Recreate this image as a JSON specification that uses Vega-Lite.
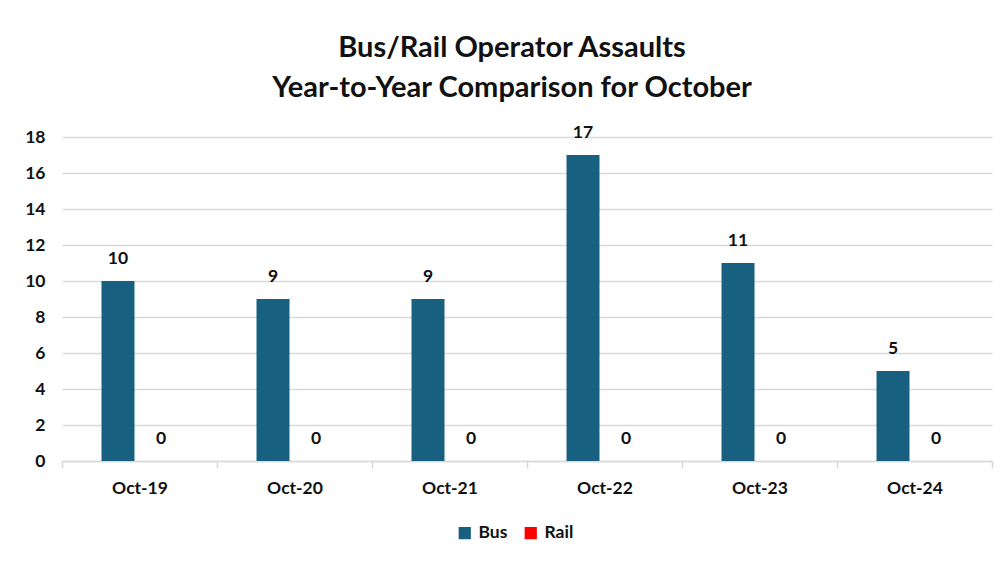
{
  "$schema": "https://vega.github.io/schema/vega-lite/v6.json",
  "width": 930,
  "height": 324,
  "autosize": {"type": "none"},
  "padding": {"left": 62, "top": 137, "right": 15, "bottom": 103},
  "background": "white",
  "title": {
    "text": ["Bus/Rail Operator Assaults", "Year-to-Year Comparison for October"],
    "font": "Lato",
    "fontSize": 29,
    "fontWeight": "bold",
    "color": "#111111",
    "lineHeight": 40,
    "anchor": "middle",
    "dx": -15,
    "offset": 21
  },
  "data": {
    "values": [
      {"month": "Oct-19", "mode": "Bus", "count": 10},
      {"month": "Oct-19", "mode": "Rail", "count": 0},
      {"month": "Oct-20", "mode": "Bus", "count": 9},
      {"month": "Oct-20", "mode": "Rail", "count": 0},
      {"month": "Oct-21", "mode": "Bus", "count": 9},
      {"month": "Oct-21", "mode": "Rail", "count": 0},
      {"month": "Oct-22", "mode": "Bus", "count": 17},
      {"month": "Oct-22", "mode": "Rail", "count": 0},
      {"month": "Oct-23", "mode": "Bus", "count": 11},
      {"month": "Oct-23", "mode": "Rail", "count": 0},
      {"month": "Oct-24", "mode": "Bus", "count": 5},
      {"month": "Oct-24", "mode": "Rail", "count": 0}
    ]
  },
  "encoding": {
    "x": {
      "field": "month",
      "type": "nominal",
      "sort": null,
      "scale": {"paddingInner": 0, "paddingOuter": 0},
      "axis": {
        "title": null,
        "labelAngle": 0,
        "labelFont": "Lato",
        "labelFontSize": 17.5,
        "labelFontWeight": "bold",
        "labelColor": "#111111",
        "labelPadding": 11,
        "domainColor": "#d9d9d9",
        "domainWidth": 1.5,
        "tickColor": "#d9d9d9",
        "tickWidth": 1.5,
        "tickSize": 7,
        "tickBand": "extent",
        "grid": false
      }
    },
    "xOffset": {
      "field": "mode",
      "type": "nominal",
      "scale": {"paddingInner": 0.2326, "paddingOuter": 0.919}
    },
    "y": {
      "field": "count",
      "type": "quantitative",
      "scale": {"domain": [0, 18]},
      "axis": {
        "title": null,
        "values": [0, 2, 4, 6, 8, 10, 12, 14, 16, 18],
        "labelFont": "Lato",
        "labelFontSize": 17.5,
        "labelFontWeight": "bold",
        "labelColor": "#111111",
        "labelPadding": 17,
        "domain": false,
        "ticks": false,
        "grid": true,
        "gridColor": "#d9d9d9",
        "gridWidth": 1.5
      }
    }
  },
  "layer": [
    {
      "mark": {"type": "bar"},
      "encoding": {
        "color": {
          "field": "mode",
          "type": "nominal",
          "scale": {"domain": ["Bus", "Rail"], "range": ["#17607f", "#ff0000"]},
          "legend": {
            "title": null,
            "orient": "none",
            "direction": "horizontal",
            "legendX": 394,
            "legendY": 387,
            "symbolType": "square",
            "symbolSize": 150,
            "symbolStrokeWidth": 0,
            "labelFont": "Lato",
            "labelFontSize": 17.5,
            "labelFontWeight": "bold",
            "labelColor": "#111111",
            "columnPadding": 14,
            "labelOffset": 5
          }
        }
      }
    },
    {
      "mark": {
        "type": "text",
        "baseline": "bottom",
        "dy": -13,
        "font": "Lato",
        "fontSize": 17.5,
        "fontWeight": "bold",
        "color": "#111111"
      },
      "encoding": {
        "text": {"field": "count", "type": "quantitative"}
      }
    }
  ],
  "config": {
    "view": {"stroke": null}
  }
}
